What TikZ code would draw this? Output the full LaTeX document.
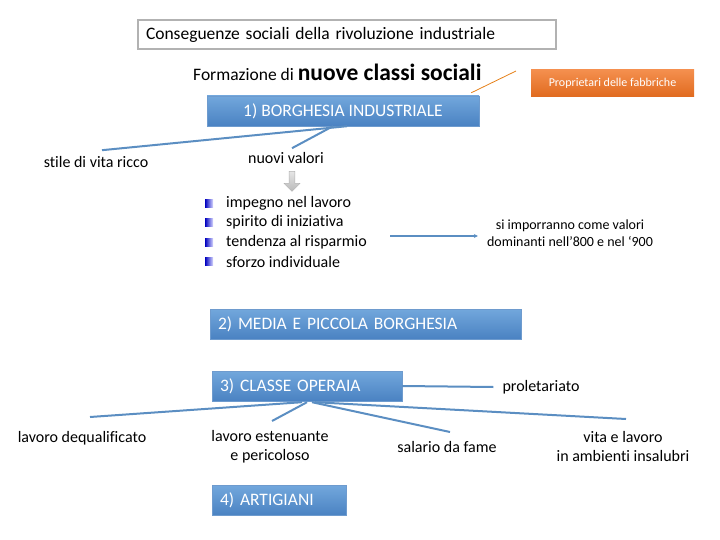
\documentclass[tikz,border=0pt]{standalone}
\usepackage{fontspec}
\setmainfont{Carlito}[Ligatures=NoCommon]
\usetikzlibrary{shapes.arrows,arrows.meta,calc}
\definecolor{boxtop}{HTML}{72A7DC}
\definecolor{boxbot}{HTML}{4A82C2}
\definecolor{linkblue}{HTML}{5B8EC2}
\definecolor{orangetop}{HTML}{F48F4E}
\definecolor{orangebot}{HTML}{E06A1E}
\tikzset{
  bluebox/.style={shade, top color=boxtop, bottom color=boxbot, draw=boxbot!80!white, line width=0.4pt,
    text=white, font=\fontsize{17.5}{20}\selectfont, minimum height=30pt, inner xsep=8pt, align=left},
  lbl/.style={font=\fontsize{16}{19}\selectfont, align=center, inner sep=1pt},
  link/.style={draw=linkblue, line width=2pt},
  bulletsq/.style={shade, left color=blue!75!black, right color=blue!15, minimum size=8pt, inner sep=0pt},
  item/.style={font=\fontsize{16}{19}\selectfont, anchor=west, inner sep=0pt}
}
\begin{document}
\begin{tikzpicture}[x=1pt,y=-1pt]
\useasboundingbox (0,0) rectangle (720,540);
% title
\node[draw=gray!60, line width=1.6pt, minimum width=418pt, minimum height=29pt, text width=402pt, align=left, inner xsep=8pt,
  font=\fontsize{17.5}{20}\selectfont] (title) at (347,34.5) {Conseguenze sociali della rivoluzione industriale};
% formazione
\node[anchor=base west, inner sep=0pt, font=\fontsize{17.5}{20}\selectfont] (form) at (193,81)
  {Formazione di \fontsize{23.5}{27}\selectfont\bfseries nuove classi sociali};
% orange box
\node[shade, top color=orangetop, bottom color=orangebot, minimum width=163pt, minimum height=27pt, text=white,
  font=\fontsize{12}{14}\selectfont] (prop) at (612.5,83.5) {Proprietari delle fabbriche};
% borghesia box
\node[bluebox, minimum width=272pt, align=center] (b1) at (343,111) {1) BORGHESIA INDUSTRIALE};
\coordinate (pend) at (516,71);
\draw[draw=orange!60!brown, line width=0.8pt] ($(b1.north east)+(-8,-3)$) -- (pend);
% level 2
\node[lbl] (stile) at (96,162) {stile di vita ricco};
\node[lbl] (nuovi) at (286,158) {nuovi valori};
\draw[link] ($(b1.south)+(4,0)$) -- ($(stile.north)+(6,-5)$);
\draw[link] ($(b1.south)+(-10,0)$) -- ($(nuovi.north)+(6,-3)$);
% gray arrow
\node[single arrow, shape border rotate=270, draw=gray!60, top color=gray!20, bottom color=gray!55,
  minimum height=20pt, minimum width=16pt, single arrow head extend=3pt, inner sep=1.5pt] (garr) at (292,180) {};
% bullet list
\foreach \t [count=\i] in {impegno nel lavoro, spirito di iniziativa, tendenza al risparmio, sforzo individuale}{
  \node[bulletsq] (bq\i) at (209,183.5+19.6*\i) {};
  \node[item] (it\i) at (226,183.5+19.6*\i) {\t};
}
% arrow to dominant values
\node[lbl, font=\fontsize{14}{17}\selectfont] (domin) at (570,233) {si imporranno come valori\\dominanti nell’800 e nel ‘900};
\coordinate (astart) at (390,236);
\draw[link, -{Stealth[length=4pt,width=4pt]}] (astart) -- ($(domin.west)+(-8,3)$);
% level 2 box
\node[bluebox, minimum width=311pt, text width=295pt] (b2) at (365.5,324) {2) MEDIA E PICCOLA BORGHESIA};
% level 3 box
\node[bluebox, minimum width=190pt, text width=174pt] (b3) at (307,386) {3) CLASSE OPERAIA};
\node[lbl] (prol) at (541,387) {proletariato};
\draw[link] (b3.east) -- ($(prol.west)+(-8,0)$);
% children of 3
\node[lbl] (deq) at (82,438) {lavoro dequalificato};
\node[lbl] (est) at (270,447) {lavoro estenuante\\e pericoloso};
\node[lbl] (sal) at (447,447) {salario da fame};
\node[lbl] (vita) at (623,447) {vita e lavoro\\in ambienti insalubri};
\coordinate (c1) at (90,417);
\coordinate (c2) at (272,421);
\coordinate (c3) at (450,432);
\coordinate (c4) at (626,419);
\draw[link] ($(b3.south)+(-5,1)$) -- (c1);
\draw[link] ($(b3.south)+(0,1)$) -- (c2);
\draw[link] ($(b3.south)+(5,1)$) -- (c3);
\draw[link] ($(b3.south)+(8,1)$) -- (c4);
% level 4
\node[bluebox, minimum width=134pt, text width=118pt] (b4) at (279,500.5) {4) ARTIGIANI};
\end{tikzpicture}
\end{document}
